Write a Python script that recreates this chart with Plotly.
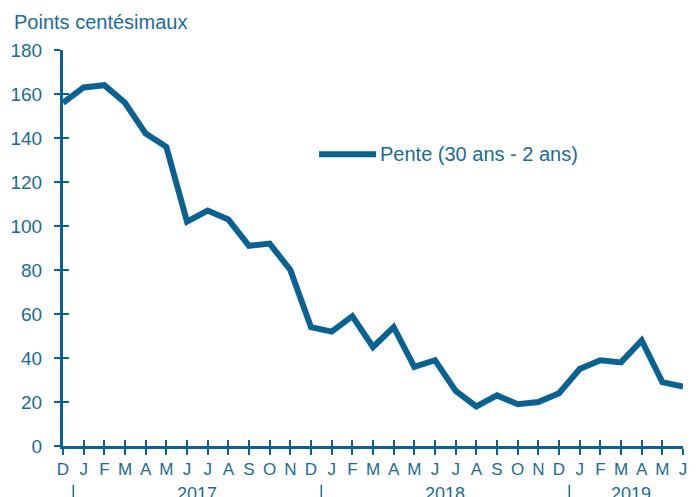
import plotly.graph_objects as go

months = ["D", "J", "F", "M", "A", "M", "J", "J", "A", "S", "O", "N",
          "D", "J", "F", "M", "A", "M", "J", "J", "A", "S", "O", "N",
          "D", "J", "F", "M", "A", "M", "J"]
pente = [156, 163, 164, 156, 142, 136, 102, 107, 103, 91, 92, 80,
         54, 52, 59, 45, 54, 36, 39, 25, 18, 23, 19, 20,
         24, 35, 39, 38, 48, 29, 27]
years = ["2017", "2018", "2019"]
year_centers = [6.5, 18.5, 27.5]
year_breaks = [0.5, 12.5, 24.5]
y_ticks = [0, 20, 40, 60, 80, 100, 120, 140, 160, 180]

LINE = "#0a6292"
TEXT = "#1b6b98"
FONT = "Liberation Sans, Arial, sans-serif"

xs = list(range(len(pente)))

fig = go.Figure()
fig.add_trace(go.Scatter(x=xs, y=pente, mode="lines",
                         line=dict(color=LINE, width=6),
                         name="Pente (30 ans - 2 ans)", showlegend=False))
# invisible helper trace for overlay axes (inner tick halves)
fig.add_trace(go.Scatter(x=xs, y=pente, mode="lines", xaxis="x2", yaxis="y2",
                         line=dict(width=0), hoverinfo="skip", showlegend=False))

fig.update_layout(
    width=700, height=497,
    margin=dict(l=55, r=25, t=42, b=59, autoexpand=False),
    paper_bgcolor="white", plot_bgcolor="white",
    font=dict(family=FONT, color=TEXT),
    xaxis=dict(range=[0, 30], tickvals=xs, ticktext=months, automargin=False,
               showgrid=False, zeroline=False,
               showline=True, linecolor=LINE, linewidth=3,
               ticks="outside", ticklen=6, tickwidth=2, tickcolor=LINE,
               tickfont=dict(size=17, color=TEXT, family=FONT)),
    xaxis2=dict(range=[0, 30], tickvals=xs, overlaying="x", matches="x",
                automargin=False,
                showticklabels=False, showgrid=False, zeroline=False,
                ticks="inside", ticklen=6, tickwidth=2, tickcolor=LINE,
                side="bottom"),
    yaxis=dict(range=[0, 180], tickvals=y_ticks, automargin=False,
               showgrid=False, zeroline=False,
               showline=True, linecolor=LINE, linewidth=3,
               ticks="outside", ticklen=6, tickwidth=2, tickcolor=LINE,
               ticklabelstandoff=8,
               tickfont=dict(size=19, color=TEXT, family=FONT)),
    yaxis2=dict(range=[0, 180], tickvals=y_ticks, overlaying="y", matches="y",
                automargin=False,
                showticklabels=False, showgrid=False, zeroline=False,
                ticks="inside", ticklen=6, tickwidth=2, tickcolor=LINE,
                side="left"),
)

annotations = []
shapes = []
for yr, c in zip(years, year_centers):
    annotations.append(dict(x=c, xref="x", y=-0.092, yref="paper",
                            text=yr, showarrow=False, xanchor="center", yanchor="top",
                            font=dict(size=18, color=TEXT, family=FONT)))
for b in year_breaks:
    shapes.append(dict(type="line", xref="x", yref="paper", x0=b, x1=b,
                       y0=-0.098, y1=-0.135, line=dict(color=TEXT, width=1.5)))

annotations.append(dict(x=-0.082, xref="paper", y=1.07, yref="paper",
                        text="Points centésimaux", showarrow=False,
                        xanchor="left", yanchor="middle",
                        font=dict(size=20, color=TEXT, family=FONT)))
# legend
shapes.append(dict(type="line", xref="paper", yref="paper", x0=0.413, x1=0.505,
                   y0=0.737, y1=0.737, line=dict(color=LINE, width=6)))
annotations.append(dict(x=0.508, xref="paper", y=0.737, yref="paper",
                        text="Pente (30 ans - 2 ans)", showarrow=False,
                        xanchor="left", yanchor="middle",
                        font=dict(size=20, color=TEXT, family=FONT)))

fig.update_layout(annotations=annotations, shapes=shapes)
fig.write_html("out.html")
